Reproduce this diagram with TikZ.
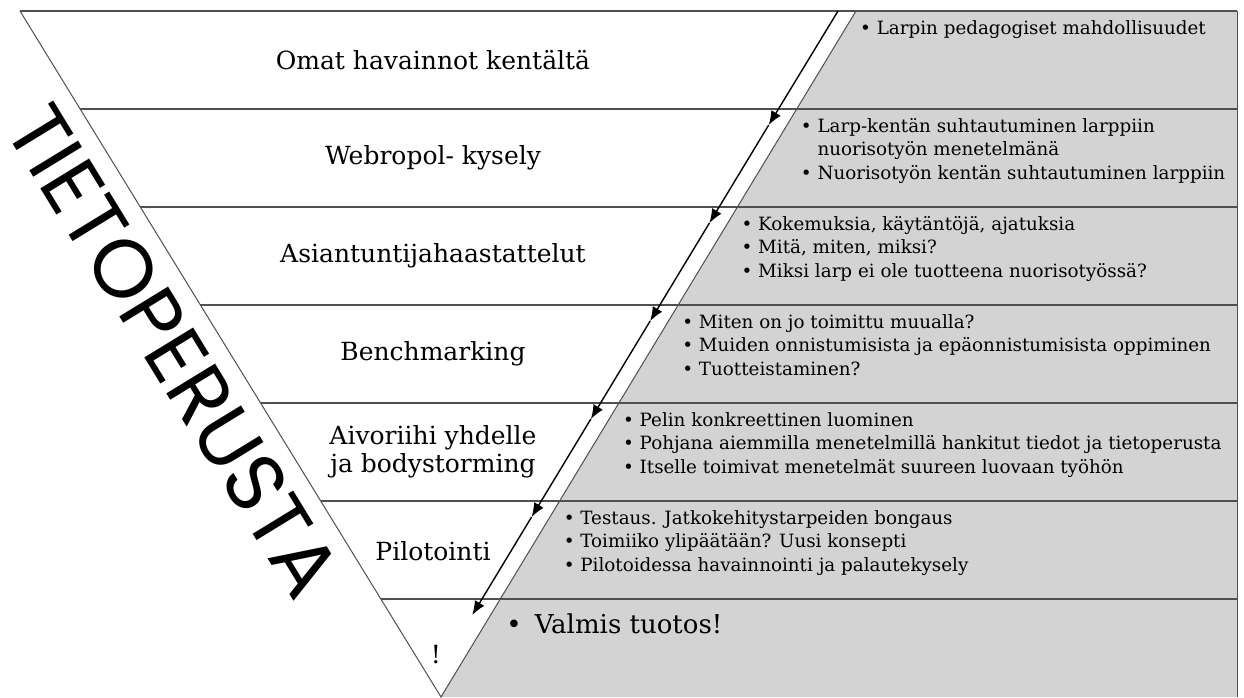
\documentclass[tikz,border=0pt]{standalone}
\usepackage{fontspec}
\setmainfont{DejaVu Serif}
\newfontfamily\headfont{Poppins}
\usetikzlibrary{arrows.meta,calc}
\definecolor{panel}{HTML}{D3D3D3}
\definecolor{rule}{HTML}{505050}
\tikzset{stage/.style={align=center,inner sep=0pt,text=black,
    font=\fontsize{25}{28}\selectfont},
  notes/.style={anchor=north west,align=left,inner sep=0pt,text=black,
    font=\fontsize{18.3}{23.5}\selectfont},
  row/.style={draw=rule,line width=1.6pt},
  flow/.style={-{Latex[length=14pt,width=11pt]},line width=1.4pt}}
\newcommand{\bl}{\textbullet\ }
\newcommand{\bi}{\hphantom{\textbullet\ }}

\begin{document}
\begin{tikzpicture}[x=1pt,y=-1pt]
\useasboundingbox (0,0) rectangle (1244,697);
\coordinate (tl) at (20,11);
\coordinate (tr) at (856,11);
\coordinate (apex) at (441,697);
\coordinate (rb) at (1237,697);
\coordinate (b0) at (tr);
\coordinate (a0) at ($(tr)+(-18,0)$);
\fill[panel] (tr) -- (tr -| rb) -- (rb) -- (apex) -- cycle;
\draw[rule,line width=0.6pt] (tr -| rb) -- (rb);
\draw[row] (tl) -- (tr -| rb);
\foreach \i in {1,...,6}{
  \coordinate (l\i) at ($(tl)!\i/7!(apex)$);
  \coordinate (b\i) at ($(tr)!\i/7!(apex)$);
  \coordinate (a\i) at ($(b\i)+(-28,16)$);
  \draw[row] (l\i) -- (l\i -| rb);
}
\draw[rule,line width=1pt] (tl) -- (apex) -- (tr);
\foreach \i [count=\j from 0] in {1,...,6} \draw[flow] (a\j) -- (a\i);

\node[font=\headfont\fontsize{82}{90}\selectfont,inner sep=0pt,rotate=-58.5] (tieto) at (174,351) {TIETOPERUSTA};

\node[stage] (omat) at (433,60) {Omat havainnot kentältä};
\node[stage] (webropol) at (433,158) {Webropol- kysely};
\node[stage] (expert) at (433,256) {Asiantuntijahaastattelut};
\node[stage] (bench) at (433,354) {Benchmarking};
\node[stage] (brain) at (433,452) {Aivoriihi yhdelle\\ja bodystorming};
\node[stage] (pilot) at (433,551) {Pilotointi};
\node[stage] (ready) at (436,655) {!};

\node[notes] (n0) at ($(b0)+(4,9)$) {\bl Larpin pedagogiset mahdollisuudet};
\node[notes] (n1) at ($(b1)+(4,9)$) {\bl Larp-kentän suhtautuminen larppiin\\
  \bi nuorisotyön menetelmänä\\\bl Nuorisotyön kentän suhtautuminen larppiin};
\node[notes] (n2) at ($(b2)+(4,9)$) {\bl Kokemuksia, käytäntöjä, ajatuksia\\
  \bl Mitä, miten, miksi?\\\bl Miksi larp ei ole tuotteena nuorisotyössä?};
\node[notes] (n3) at ($(b3)+(4,9)$) {\bl Miten on jo toimittu muualla?\\
  \bl Muiden onnistumisista ja epäonnistumisista oppiminen\\\bl Tuotteistaminen?};
\node[notes] (n4) at ($(b4)+(4,9)$) {\bl Pelin konkreettinen luominen\\
  \bl Pohjana aiemmilla menetelmillä hankitut tiedot ja tietoperusta\\
  \bl Itselle toimivat menetelmät suureen luovaan työhön};
\node[notes] (n5) at ($(b5)+(4,9)$) {\bl Testaus. Jatkokehitystarpeiden bongaus\\
  \bl Toimiiko ylipäätään? Uusi konsepti\\\bl Pilotoidessa havainnointi ja palautekysely};
\node[notes,anchor=west,font=\fontsize{26}{30}\selectfont] (n6) at ($(b6)+(6,25)$) {\textbullet\enspace Valmis tuotos!};
\end{tikzpicture}
\end{document}
